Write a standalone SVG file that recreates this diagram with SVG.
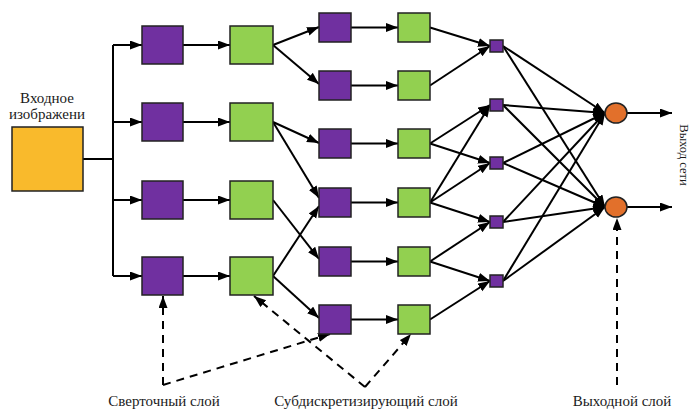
<svg xmlns="http://www.w3.org/2000/svg" width="691" height="409" viewBox="0 0 691 409">
<style>
.p{fill:#7030A0;stroke:#222;stroke-width:1.5}
.g{fill:#92D050;stroke:#222;stroke-width:1.5}
.y{fill:#F9BA2C;stroke:#222;stroke-width:1.5}
.o{fill:#E2702B;stroke:#222;stroke-width:1.5}
.l{fill:none;stroke:#000;stroke-width:2}
.a{fill:none;stroke:#000;stroke-width:2;marker-end:url(#ah)}
.da{fill:none;stroke:#000;stroke-width:2;stroke-dasharray:8,6;marker-end:url(#ah)}
.t{font-family:"Liberation Serif","Times New Roman",serif;font-size:15px;fill:#1a1a1a}
</style>
<defs>
<marker id="ah" markerUnits="userSpaceOnUse" markerWidth="13" markerHeight="10" refX="12" refY="4.5" orient="auto"><path d="M0,0 L12,4.5 L0,9 z" fill="#000"/></marker>
</defs>
<rect width="691" height="409" fill="#fff"/>
<g id="connectors">
<path class="l" d="M83,159 H113 M113,45 V276"/>
<path class="a" d="M113,45 H142"/><path class="a" d="M113,122 H142"/><path class="a" d="M113,200 H142"/><path class="a" d="M113,276 H142"/>
<path class="a" d="M183,45 H230"/><path class="a" d="M183,122 H230"/><path class="a" d="M183,200 H230"/><path class="a" d="M183,276 H230"/>
<path class="a" d="M273,45 L319,27"/><path class="a" d="M273,45 L319,84"/><path class="a" d="M273,122 L319,143"/><path class="a" d="M273,122 L319,198"/><path class="a" d="M273,200 L319,259"/><path class="a" d="M273,276 L319,206"/><path class="a" d="M273,276 L319,318"/>
<path class="a" d="M351,27.5 H398"/><path class="a" d="M351,85.5 H398"/><path class="a" d="M351,143.5 H398"/><path class="a" d="M351,202.5 H398"/><path class="a" d="M351,261.5 H398"/><path class="a" d="M351,319.5 H398"/>
<path class="a" d="M430,27.5 L490,46"/><path class="a" d="M430,85.5 L490,46"/><path class="a" d="M430,143.5 L490,105"/><path class="a" d="M430,143.5 L490,163"/><path class="a" d="M430,202.5 L490,105"/><path class="a" d="M430,202.5 L490,163"/><path class="a" d="M430,202.5 L490,222"/><path class="a" d="M430,261.5 L490,222"/><path class="a" d="M430,261.5 L490,281"/><path class="a" d="M430,319.5 L490,281"/>
<path class="a" d="M503,46 L605,113"/><path class="a" d="M503,105 L605,113"/><path class="a" d="M503,163 L605,113"/><path class="a" d="M503,222 L605,113"/><path class="a" d="M503,281 L605,113"/>
<path class="a" d="M503,46 L605,207"/><path class="a" d="M503,105 L605,207"/><path class="a" d="M503,163 L605,207"/><path class="a" d="M503,222 L605,207"/><path class="a" d="M503,281 L605,207"/>
<path class="a" d="M627,113 H672"/><path class="a" d="M627,207 H672"/>
<path class="da" d="M163,385 V296"/>
<path class="da" d="M163,385 L330,334"/>
<path class="da" d="M365,387 L254,296"/>
<path class="da" d="M365,387 L411,334"/>
<path class="da" d="M617,385 V218"/>
</g>
<g id="input"><rect class="y" x="12" y="127" width="71" height="64"/>
<text class="t" x="47" y="103" text-anchor="middle">Входное</text>
<text class="t" x="47" y="119" text-anchor="middle">изображени</text></g>
<g id="c1-1"><rect class="p" x="142" y="26" width="41" height="38"/></g>
<g id="c1-2"><rect class="p" x="142" y="103" width="41" height="38"/></g>
<g id="c1-3"><rect class="p" x="142" y="181" width="41" height="38"/></g>
<g id="c1-4"><rect class="p" x="142" y="257" width="41" height="38"/></g>
<g id="s1-1"><rect class="g" x="230" y="26" width="43" height="38"/></g>
<g id="s1-2"><rect class="g" x="230" y="103" width="43" height="38"/></g>
<g id="s1-3"><rect class="g" x="230" y="181" width="43" height="38"/></g>
<g id="s1-4"><rect class="g" x="230" y="257" width="43" height="38"/></g>
<g id="c2-1"><rect class="p" x="319" y="13" width="32" height="29"/></g>
<g id="c2-2"><rect class="p" x="319" y="71" width="32" height="29"/></g>
<g id="c2-3"><rect class="p" x="319" y="129" width="32" height="29"/></g>
<g id="c2-4"><rect class="p" x="319" y="188" width="32" height="29"/></g>
<g id="c2-5"><rect class="p" x="319" y="247" width="32" height="29"/></g>
<g id="c2-6"><rect class="p" x="319" y="305" width="32" height="29"/></g>
<g id="s2-1"><rect class="g" x="398" y="13" width="32" height="29"/></g>
<g id="s2-2"><rect class="g" x="398" y="71" width="32" height="29"/></g>
<g id="s2-3"><rect class="g" x="398" y="129" width="32" height="29"/></g>
<g id="s2-4"><rect class="g" x="398" y="188" width="32" height="29"/></g>
<g id="s2-5"><rect class="g" x="398" y="247" width="32" height="29"/></g>
<g id="s2-6"><rect class="g" x="398" y="305" width="32" height="29"/></g>
<g id="f-1"><rect class="p" x="490" y="40" width="13" height="12"/></g>
<g id="f-2"><rect class="p" x="490" y="99" width="13" height="12"/></g>
<g id="f-3"><rect class="p" x="490" y="157" width="13" height="12"/></g>
<g id="f-4"><rect class="p" x="490" y="216" width="13" height="12"/></g>
<g id="f-5"><rect class="p" x="490" y="275" width="13" height="12"/></g>
<g id="out-1"><ellipse class="o" cx="616" cy="113" rx="11" ry="10"/></g>
<g id="out-2"><ellipse class="o" cx="616" cy="207" rx="11" ry="10"/></g>
<g id="labels">
<text class="t" x="680" y="155" text-anchor="middle" style="font-size:12.5px" transform="rotate(90 680 155)">Выход сети</text>
<text class="t" x="164" y="406" text-anchor="middle">Сверточный слой</text>
<text class="t" x="366" y="406" text-anchor="middle">Субдискретизирующий слой</text>
<text class="t" x="622" y="406" text-anchor="middle">Выходной слой</text>
</g>
</svg>
